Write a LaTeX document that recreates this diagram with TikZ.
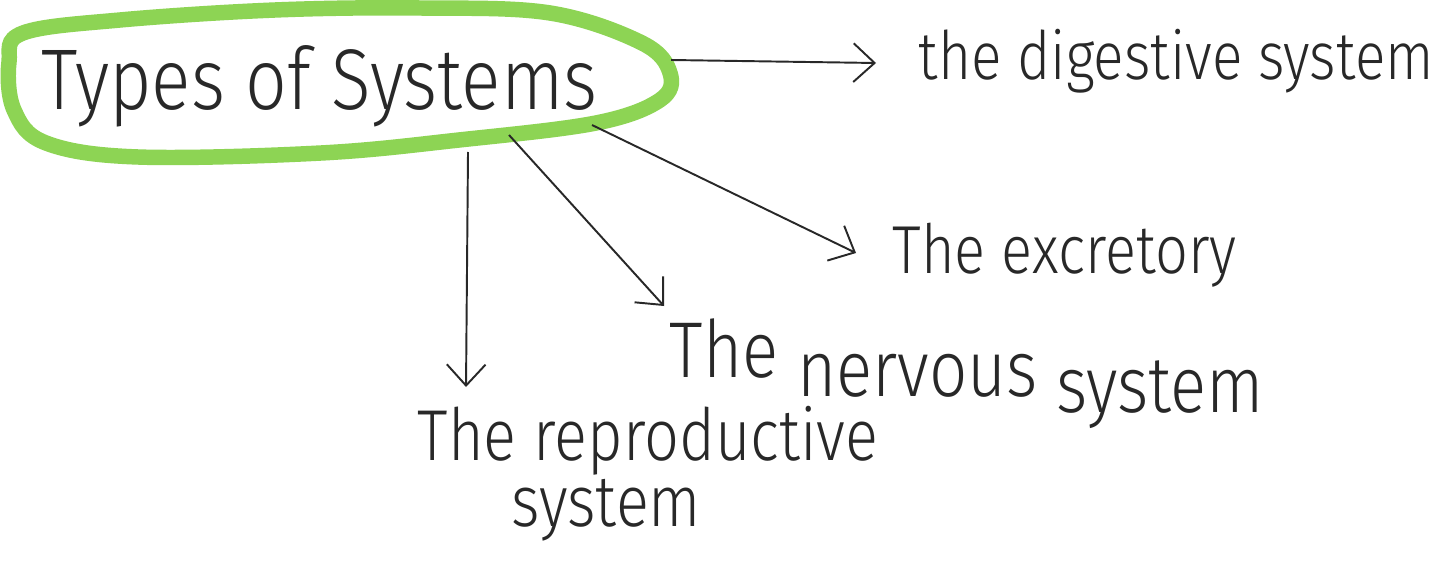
\documentclass[tikz,border=0pt]{standalone}
\usepackage{fontspec}
\newfontfamily\hand[FakeStretch=0.85]{Fira Sans Light}
\usetikzlibrary{arrows.meta}
\definecolor{hl}{RGB}{141,212,84}
\definecolor{ink}{RGB}{40,40,40}
\begin{document}
\begin{tikzpicture}[x=0.01cm,y=-0.01cm,
  lbl/.style={inner sep=0pt, anchor=base west, text=ink},
  conn/.style={ink, line width=0.55pt, -{Straight Barb[length=6pt,width=11pt]}}]
\useasboundingbox (0,0) rectangle (1446,573);
\fill[white] (0,0) rectangle (1446,573);
% green ring
\draw[hl, line width=4.4pt] plot[smooth cycle, tension=0.6] coordinates {
  (9,62) (23,33) (120,20) (275,10) (420,8) (550,13) (642,43) (670,73)
  (660,100) (596,123) (459,140) (321,153) (138,157) (46,143) (14,110)};
% labels
\node[lbl, font=\hand\fontsize{24.5}{28}\selectfont] (title) at (41,110) {Types of Systems};
\node[lbl, font=\hand\fontsize{19}{22}\selectfont] (dig) at (918,80) {the digestive system};
\node[lbl, font=\hand\fontsize{19.3}{23}\selectfont] (exc) at (892,273) {The excretory};
\node[lbl, font=\hand\fontsize{22.5}{26}\selectfont] (nerv) at (669,377)
  {The \raisebox{-0.19cm}{nervous} \raisebox{-0.35cm}{system}};
\node[inner sep=0pt, anchor=north west, text=ink, align=left,
      font=\hand\fontsize{20.5}{17.6}\selectfont] (rep) at (417,406)
  {The reproductive\\\hspace*{0.94cm}system};
% connector ends
\coordinate (s1) at (671,60);  \coordinate (t1) at (876,63);
\coordinate (s2) at (592,125); \coordinate (t2) at (856,253);
\coordinate (s3) at (509,135); \coordinate (t3) at (664,306);
\coordinate (s4) at (468,152); \coordinate (t4) at (466,387);
\draw[conn] (s1) -- (t1);
\draw[conn] (s2) -- (t2);
\draw[conn] (s3) -- (t3);
\draw[conn] (s4) -- (t4);
\end{tikzpicture}
\end{document}
